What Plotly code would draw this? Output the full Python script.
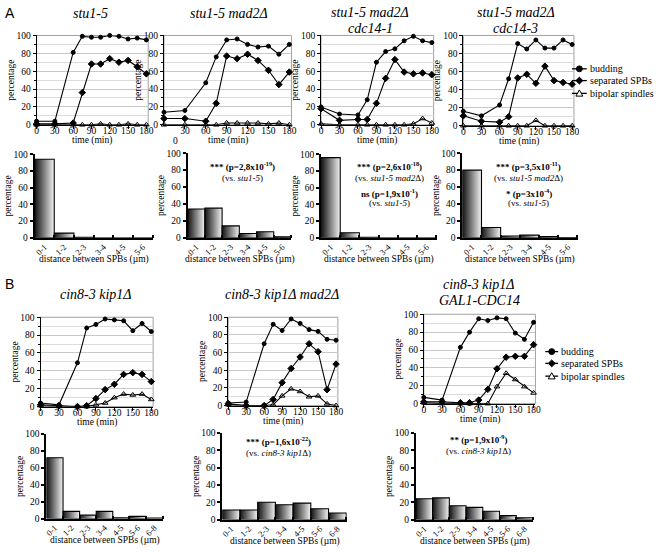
import plotly.graph_objects as go

W, H = 656, 552
SERIF = "Liberation Serif"
SANS = "Liberation Sans"

# ---------------- data ----------------
time = [0, 30, 60, 75, 90, 105, 120, 135, 150, 165, 180]
time_ticks = [0, 30, 60, 90, 120, 150, 180]

# Panel A, time courses
a1_budding = [4, 4, 81, 99, 98, 98, 100, 99, 96, 97, 95]
a1_separated = [1, 1, 2, 36, 68, 68, 74, 70, 72, 65, 57]
a1_bipolar = [0, 0, 0, 0, 0, 1, 0, 0, 1, 0, 0]

a2_budding = [14, 16, 47, 76, 95, 96, 90, 87, 88, 79, 90]
a2_separated = [7, 7, 4, 24, 77, 74, 79, 72, 61, 45, 59]
a2_bipolar = [0, 0, 0, 0, 2, 2, 2, 2, 1, 2, 0]

a3_budding = [20, 12, 11, 28, 70, 82, 85, 94, 99, 94, 92]
a3_separated = [18, 5, 6, 6, 24, 52, 73, 59, 57, 58, 56]
a3_bipolar = [1, 0, 0, 0, 0, 0, 0, 0, 1, 7, 2]

a4_budding = [16, 11, 23, 52, 91, 85, 95, 86, 86, 95, 90]
a4_separated = [11, 5, 4, 10, 53, 57, 47, 66, 50, 48, 46]
a4_bipolar = [0, 0, 0, 0, 0, 0, 6, 0, 0, 0, 0]

# Panel B, time courses
b1_budding = [4, 2, 49, 88, 92, 98, 97, 96, 85, 93, 84]
b1_separated = [2, 1, 0, 1, 9, 19, 25, 36, 38, 36, 28]
b1_bipolar = [1, 0, 0, 0, 2, 4, 10, 14, 13, 14, 8]

b2_budding = [3, 4, 70, 92, 85, 98, 93, 86, 84, 75, 74]
b2_separated = [2, 0, 0, 7, 26, 42, 55, 70, 61, 18, 47]
b2_bipolar = [1, 0, 0, 1, 11, 19, 16, 10, 11, 2, 0]

b3_budding = [7, 4, 63, 80, 95, 93, 96, 95, 79, 72, 91]
b3_separated = [2, 2, 1, 1, 4, 16, 39, 52, 53, 53, 66]
b3_bipolar = [1, 0, 0, 0, 0, 0, 19, 34, 27, 19, 12]

# SPB distance histograms
a_bins = ["0-1", "1-2", "2-3", "3-4", "4-5", "5-6"]
a1_dist = [94, 5.5, 0.5, 0, 0, 0]
a2_dist = [34, 35, 14, 5, 7, 1]
a3_dist = [96, 6, 0.5, 0, 0, 0]
a4_dist = [80, 12, 2, 3, 1.5, 0.3]

b_bins = ["0-1", "1-2", "2-3", "3-4", "4-5", "5-6", "6-8"]
b1_dist = [72, 8.5, 4, 8.5, 1, 2.5, 0.5]
b2_dist = [11, 11, 20, 17, 19, 12.5, 7.5]
b3_dist = [24, 25, 16, 14, 9.5, 4.5, 2]

series_names = ["budding", "separated SPBs", "bipolar spindles"]

# ---------------- helpers ----------------
fig = go.Figure()
layout = {}
annotations = []
shapes = []


def fx(px):
    return px / W


def fy(py):
    return 1 - py / H


def sfx(k):
    return "" if k == 1 else str(k)


def add_text(px, py, text, size=10, family=SERIF, xanchor="center"):
    annotations.append(dict(x=fx(px), y=fy(py), xref="paper", yref="paper",
                            text=text, showarrow=False, xanchor=xanchor,
                            yanchor="middle", font=dict(family=family, size=size, color="black")))


def line_chart(k, box, bud, sep, bip, xtickvals=time_ticks):
    l, t, r, b = box
    xa, ya = f"x{sfx(k)}", f"y{sfx(k)}"
    layout[f"xaxis{sfx(k)}"] = dict(
        domain=[fx(l), fx(r)], anchor=ya, range=[0, 183], tickvals=xtickvals,
        ticks="outside", ticklen=3, tickcolor="black", linecolor="black", linewidth=1,
        ticklabelstandoff=-6,
        showgrid=False, zeroline=False, tickfont=dict(family=SERIF, size=9.5, color="black"),
    )
    add_text((l + r) / 2, b + 16.5, "time (min)", size=9.5)
    layout[f"yaxis{sfx(k)}"] = dict(
        domain=[fy(b), fy(t)], anchor=xa, range=[0, 100], tickvals=[0, 20, 40, 60, 80, 100],
        ticks="outside", ticklen=3, tickcolor="black", linecolor="black", linewidth=1,
        showgrid=True, gridcolor="#c8c8c8", gridwidth=1, zeroline=False,
        minor=dict(dtick=10, showgrid=True, gridcolor="#dcdcdc", ticks="outside", ticklen=2, tickcolor="black"),
        tickfont=dict(family=SERIF, size=9.5, color="black"),
        title=dict(text="percentage", font=dict(family=SERIF, size=9.5, color="black"), standoff=0),
    )
    shapes.append(dict(type="rect", xref=f"{xa} domain", yref=f"{ya} domain", x0=0, x1=1, y0=0, y1=1,
                       line=dict(color="#a0a0a0", width=1), layer="below"))
    styles = [dict(symbol="circle", size=4), dict(symbol="diamond", size=5),
              dict(symbol="triangle-up-open", size=5)]
    for name, vals, st in zip(series_names, [bud, sep, bip], styles):
        fig.add_trace(go.Scatter(
            x=time, y=vals, xaxis=xa, yaxis=ya, mode="lines+markers", name=name,
            line=dict(color="black", width=1.1),
            marker=dict(color="black", line=dict(color="black", width=1), **st),
            showlegend=False, cliponaxis=False, hoverinfo="skip"))


def bar_chart(k, box, bins, vals):
    l, t, r, b = box
    xa, ya = f"x{sfx(k)}", f"y{sfx(k)}"
    n = len(bins)
    layout[f"xaxis{sfx(k)}"] = dict(
        domain=[fx(l), fx(r)], anchor=ya, range=[0, n + 0.03],
        tickvals=[i + 0.5 for i in range(n)], ticktext=bins, tickangle=-45, ticks="",
        ticklabelstandoff=-1,
        minor=dict(tickvals=list(range(1, n + 1)), ticks="inside", ticklen=3, tickwidth=1.5,
                   tickcolor="black", showgrid=False),
        linecolor="black", linewidth=2, showgrid=False, zeroline=False,
        tickfont=dict(family=SERIF, size=8.5, color="black"),
    )
    add_text((l + r) / 2, b + 22.5, "distance between SPBs (µm)", size=9.5)
    layout[f"yaxis{sfx(k)}"] = dict(
        domain=[fy(b), fy(t)], anchor=xa, range=[0, 100], tickvals=[0, 20, 40, 60, 80, 100],
        ticks="outside", ticklen=3, tickwidth=2, tickcolor="black",
        linecolor="black", linewidth=2, showgrid=False, zeroline=False,
        tickfont=dict(family=SERIF, size=9.5, color="black"),
        title=dict(text="percentage", font=dict(family=SERIF, size=9.5, color="black"), standoff=0),
    )
    for i, v in enumerate(vals):
        fig.add_trace(go.Scatter(
            x=[i, i, i + 1, i + 1, i], y=[0, v, v, 0, 0], xaxis=xa, yaxis=ya,
            mode="lines", fill="toself",
            fillgradient=dict(type="horizontal", colorscale=[[0, "#111111"], [1, "#f4f4f4"]]),
            line=dict(color="black", width=1.1), showlegend=False, hoverinfo="skip"))


def legend_key(x0, x1, y, kind):
    """Draw one legend key (line + symbol) in pixel positions, as paper shapes."""
    shapes.append(dict(type="line", xref="paper", yref="paper", x0=fx(x0), x1=fx(x1),
                       y0=fy(y), y1=fy(y), line=dict(color="black", width=1.3)))
    cx = (x0 + x1) / 2
    if kind == "circle":
        r = 3
        shapes.append(dict(type="circle", xref="paper", yref="paper", x0=fx(cx - r), x1=fx(cx + r),
                           y0=fy(y + r), y1=fy(y - r), fillcolor="black", line=dict(color="black", width=1)))
    elif kind == "diamond":
        r = 3.5
        path = (f"M {fx(cx - r)} {fy(y)} L {fx(cx)} {fy(y - r)} L {fx(cx + r)} {fy(y)} "
                f"L {fx(cx)} {fy(y + r)} Z")
        shapes.append(dict(type="path", xref="paper", yref="paper", path=path,
                           fillcolor="black", line=dict(color="black", width=1)))
    else:
        r = 3.5
        path = (f"M {fx(cx - r)} {fy(y + r * 0.8)} L {fx(cx)} {fy(y - r)} L {fx(cx + r)} {fy(y + r * 0.8)} Z")
        shapes.append(dict(type="path", xref="paper", yref="paper", path=path,
                           fillcolor="white", line=dict(color="black", width=1)))


def legend_block(x0, x1, ys):
    for name, kind, y in zip(series_names, ["circle", "diamond", "triangle"], ys):
        legend_key(x0, x1, y, kind)
        add_text(x1 + 1, y, name, size=10, xanchor="left")


# ---------------- panel A ----------------
line_chart(1, (35, 31, 148, 122), a1_budding, a1_separated, a1_bipolar)
line_chart(2, (164, 31, 293, 122), a2_budding, a2_separated, a2_bipolar,
           xtickvals=[30, 60, 90, 120, 150, 180])
line_chart(3, (323, 31, 437, 122), a3_budding, a3_separated, a3_bipolar)
line_chart(4, (467, 31, 579, 123), a4_budding, a4_separated, a4_bipolar)

bar_chart(5, (33, 152, 153, 237), a_bins, a1_dist)
bar_chart(6, (188, 151, 293, 237), a_bins, a2_dist)
bar_chart(7, (323, 152, 440, 237), a_bins, a3_dist)
bar_chart(8, (466, 151, 583, 237), a_bins, a4_dist)

# ---------------- panel B ----------------
line_chart(9, (39, 318, 153, 409), b1_budding, b1_separated, b1_bipolar)
line_chart(10, (229, 318, 340, 408), b2_budding, b2_separated, b2_bipolar)
line_chart(11, (427, 315, 540, 406), b3_budding, b3_separated, b3_bipolar)

bar_chart(12, (45, 437, 163, 523), b_bins, b1_dist)
bar_chart(13, (223, 436, 349, 524), b_bins, b2_dist)
bar_chart(14, (419, 436, 538, 524), b_bins, b3_dist)

# ---------------- legends ----------------
legend_block(577, 592, [65, 77, 90])
legend_block(550, 563, [353, 365, 378])

# ---------------- text ----------------
add_text(8, 8, "A", size=14, family=SANS)
add_text(8, 284, "B", size=14, family=SANS)

add_text(90, 9, "<i>stu1-5</i>", size=14)
add_text(230, 9, "<i>stu1-5 mad2Δ</i>", size=14)
add_text(373, 8, "<i>stu1-5 mad2Δ</i>", size=14)
add_text(373, 24, "<i>cdc14-1</i>", size=14)
add_text(520, 8, "<i>stu1-5 mad2Δ</i>", size=14)
add_text(520, 24, "<i>cdc14-3</i>", size=14)
add_text(95, 295, "<i>cin8-3 kip1Δ</i>", size=14)
add_text(283, 295, "<i>cin8-3 kip1Δ mad2Δ</i>", size=14)
add_text(483, 285, "<i>cin8-3 kip1Δ</i>", size=14)
add_text(483, 301, "<i>GAL1-CDC14</i>", size=14)

add_text(176, 138, "0", size=9.5)

add_text(243, 164, "<b>*** (p=2,8x10<sup>-19</sup>)</b>", size=9)
add_text(243, 176, "(vs. <i>stu1-5</i>)", size=9)
add_text(392, 164, "<b>*** (p=2,6x10<sup>-18</sup>)</b>", size=9)
add_text(392, 176, "(vs. <i>stu1-5 mad2</i>Δ)", size=9)
add_text(392, 191, "<b>ns (p=1,9x10<sup>-1</sup>)</b>", size=9)
add_text(392, 202, "(vs. <i>stu1-5</i>)", size=9)
add_text(533, 164, "<b>*** (p=3,5x10<sup>-11</sup>)</b>", size=9)
add_text(533, 176, "(vs. <i>stu1-5 mad2</i>Δ)", size=9)
add_text(533, 191, "<b>* (p=3x10<sup>-4</sup>)</b>", size=9)
add_text(533, 202, "(vs. <i>stu1-5</i>)", size=9)
add_text(280, 444, "<b>*** (p=1,6x10<sup>-22</sup>)</b>", size=9)
add_text(280, 456, "(vs. <i>cin8-3 kip1</i>Δ)", size=9)
add_text(482, 442, "<b>** (p=1,9x10<sup>-9</sup>)</b>", size=9)
add_text(482, 454, "(vs. <i>cin8-3 kip1</i>Δ)", size=9)

fig.update_layout(
    width=W, height=H, margin=dict(l=0, r=0, t=0, b=0),
    paper_bgcolor="white", plot_bgcolor="white", showlegend=False,
    font=dict(family=SERIF, color="black"),
    annotations=annotations, shapes=shapes, **layout,
)

fig.write_html("out.html", config={"displayModeBar": False},
               post_script="document.body.style.margin='0px';")
